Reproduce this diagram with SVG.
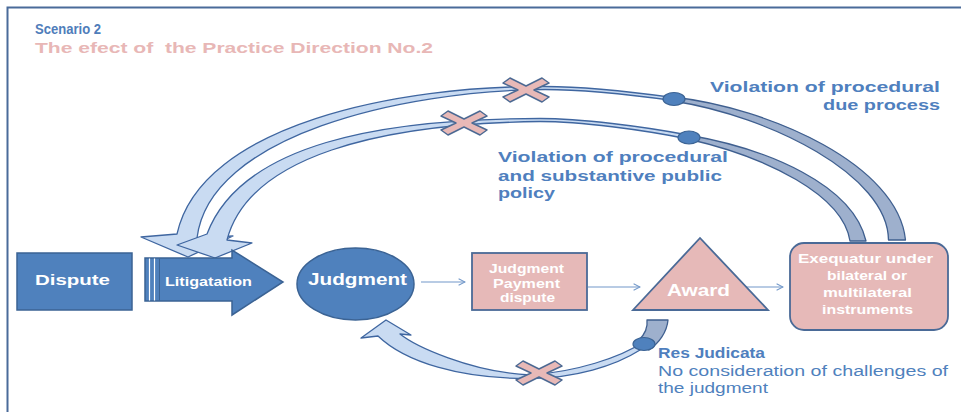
<svg xmlns="http://www.w3.org/2000/svg" width="961" height="412" viewBox="0 0 961 412">
<defs>
<style>
.t{font-family:"Liberation Sans",Arial,sans-serif;font-weight:700}
.r{font-family:"Liberation Sans",Arial,sans-serif;font-weight:400}
.w{fill:#ffffff}
.lb{fill:#4f7fbe}
.blue{fill:#4f81bd;stroke:#3b6394;stroke-width:1.5}
.pink{fill:#e6b9b8;stroke:#4a6a97;stroke-width:1.8}
.light{fill:#c9dbf2;stroke:#3f66a0;stroke-width:1.3;stroke-linejoin:round}
.gray{fill:#9eb0cd;stroke:#3f5f8f;stroke-width:1.3;stroke-linejoin:round}
.cross{fill:#e8b9b7;stroke:#4d6a93;stroke-width:1.5;stroke-linejoin:round}
.dot{fill:#4f81bd;stroke:#3b6394;stroke-width:1.2}
.conn{fill:none;stroke:#7298c9;stroke-width:1.1}
</style>
<marker id="open" viewBox="0 0 10 10" refX="9" refY="5" markerWidth="8" markerHeight="8" markerUnits="userSpaceOnUse" orient="auto">
<path d="M1,1 L9,5 L1,9" fill="none" stroke="#7298c9" stroke-width="1.3"/>
</marker>
<polygon id="xmark" points="-23,-7 -16,-12 0,-4 16,-12 23,-7 8,0 23,7 16,12 0,4 -16,12 -23,7 -8,0"/>
</defs>
<rect width="961" height="412" fill="#ffffff"/>
<path d="M7.5,412 V7.5 H961" fill="none" stroke="#4a6b9a" stroke-width="2"/>

<g id="title">
<text class="t" x="35" y="34" font-size="14" fill="#4f7dba" textLength="66" lengthAdjust="spacingAndGlyphs">Scenario 2</text>
<text class="t" x="35" y="53" font-size="15" fill="#e8b7b6" style="white-space:pre" textLength="398" lengthAdjust="spacingAndGlyphs">The efect of  the Practice Direction No.2</text>
</g>

<g id="connectors">
<g id="outer-arc">
<path class="light" d="M673,97.5 C633,92 585,86.5 545,86.5 C400,85.5 201,124 177,234 L141,237 L188,257 L233,236 L197,238 C209,136 400,90.5 545,89.5 C585,89.5 633,95 673,100.5 Z"/>
<path class="gray" d="M673,97 C770.5,108 898,165 905.5,240 L888.5,240 C888,175 769.5,116 673,101 Z"/>
<use href="#xmark" class="cross" x="526" y="90"/>
<ellipse class="dot" cx="674" cy="99" rx="11" ry="6.5"/>
</g>
<g id="inner-arc">
<path class="light" d="M688,135 C643,126.3 580,118.5 540,118.5 C380,118.5 241,144 207,234 L177,245 L215,258 L252,243 L227,240 C249,156 380,123.5 540,121.5 C580,121.5 643,129.7 688,139 Z"/>
<path class="gray" d="M688,135 C769,149 853,185 866,241 L850,241 C843,195 767,157 688,139 Z"/>
<use href="#xmark" class="cross" x="464" y="123"/>
<ellipse class="dot" cx="689" cy="137.5" rx="11" ry="6.5"/>
</g>
<g id="lower-arc">
<path class="light" d="M378,336 C405,362 460,379 530,378.5 C575,378 615,366 640,350 L645,341 C620,358 575,372 530,375 C470,372 415,346 400,334 L411,335 L386,320 L361,338 Z"/>
<path class="gray" d="M647,320 L668,320 C667,332 659,343 649,350 L639,340 C645,334 648,328 647,320 Z"/>
<use href="#xmark" class="cross" x="539" y="373"/>
<ellipse class="dot" cx="644" cy="344" rx="11" ry="6.5"/>
</g>
<line class="conn" x1="421" y1="282" x2="465" y2="282" marker-end="url(#open)"/>
<line class="conn" x1="588" y1="287" x2="640" y2="287" marker-end="url(#open)"/>
<line class="conn" x1="733" y1="287" x2="783" y2="287" marker-end="url(#open)"/>
</g>

<g id="dispute">
<rect class="blue" x="17" y="253" width="115" height="57"/>
<text class="t w" x="35" y="285" font-size="15" textLength="75" lengthAdjust="spacingAndGlyphs">Dispute</text>
</g>

<g id="litigation">
<path class="blue" d="M145,258 H232 V250 L283,282 L232,315 V301 H145 Z"/>
<line x1="149.5" y1="258.5" x2="149.5" y2="300.5" stroke="#ffffff" stroke-width="1.2"/>
<line x1="154.5" y1="258.5" x2="154.5" y2="300.5" stroke="#ffffff" stroke-width="1.2"/>
<line x1="159.5" y1="258.5" x2="159.5" y2="300.5" stroke="#3b6394" stroke-width="1"/>
<text class="t w" x="165" y="286" font-size="12" textLength="87" lengthAdjust="spacingAndGlyphs">Litigatation</text>
</g>

<g id="judgment">
<ellipse class="blue" cx="355.5" cy="284" rx="58.5" ry="36"/>
<text class="t w" x="308" y="285" font-size="16" textLength="99" lengthAdjust="spacingAndGlyphs">Judgment</text>
</g>

<g id="payment-dispute">
<rect class="pink" x="472" y="253" width="115" height="57"/>
<text class="t w" x="489" y="273" font-size="12" textLength="75" lengthAdjust="spacingAndGlyphs">Judgment</text>
<text class="t w" x="493" y="287.5" font-size="12" textLength="67" lengthAdjust="spacingAndGlyphs">Payment</text>
<text class="t w" x="500" y="302" font-size="12" textLength="55" lengthAdjust="spacingAndGlyphs">dispute</text>
</g>

<g id="award">
<polygon class="pink" points="700,238 633,310 768,310"/>
<text class="t w" x="667" y="296" font-size="17" textLength="63" lengthAdjust="spacingAndGlyphs">Award</text>
</g>

<g id="exequatur">
<rect class="pink" x="790" y="243" width="158" height="87" rx="14"/>
<text class="t w" x="798" y="263" font-size="12.5" textLength="135" lengthAdjust="spacingAndGlyphs">Exequatur under</text>
<text class="t w" x="827" y="280" font-size="12.5" textLength="80" lengthAdjust="spacingAndGlyphs">bilateral or</text>
<text class="t w" x="823" y="297" font-size="12.5" textLength="89" lengthAdjust="spacingAndGlyphs">multilateral</text>
<text class="t w" x="822" y="314" font-size="12.5" textLength="91" lengthAdjust="spacingAndGlyphs">instruments</text>
</g>

<g id="label-due-process">
<text class="t lb" x="710" y="92" font-size="15" textLength="230" lengthAdjust="spacingAndGlyphs">Violation of procedural</text>
<text class="t lb" x="823" y="110" font-size="15" textLength="117" lengthAdjust="spacingAndGlyphs">due process</text>
</g>

<g id="label-public-policy">
<text class="t lb" x="498" y="162" font-size="14.5" textLength="230" lengthAdjust="spacingAndGlyphs">Violation of procedural</text>
<text class="t lb" x="498" y="181" font-size="14.5" textLength="224" lengthAdjust="spacingAndGlyphs">and substantive public</text>
<text class="t lb" x="498" y="198" font-size="14.5" textLength="57" lengthAdjust="spacingAndGlyphs">policy</text>
</g>

<g id="label-res-judicata">
<text class="t lb" x="658" y="358" font-size="14" textLength="107" lengthAdjust="spacingAndGlyphs">Res Judicata</text>
<text class="r" x="658" y="376" font-size="14" fill="#4f81bd" textLength="290" lengthAdjust="spacingAndGlyphs">No consideration of challenges of</text>
<text class="r" x="658" y="393" font-size="14" fill="#4f81bd" textLength="110" lengthAdjust="spacingAndGlyphs">the judgment</text>
</g>
</svg>
